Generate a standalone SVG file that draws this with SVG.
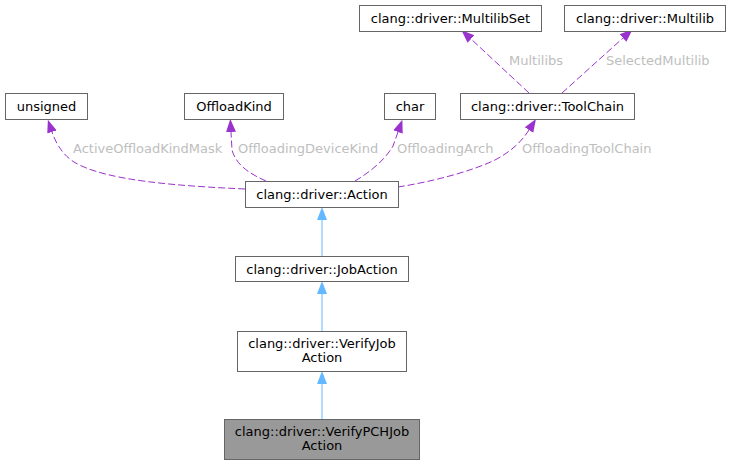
<svg xmlns="http://www.w3.org/2000/svg" width="730" height="465" viewBox="0 0 730 465">
<style>
.n rect{fill:#ffffff;stroke:#666666;stroke-width:1}
.n.hl rect{fill:#999999}
.n text{font-family:"DejaVu Sans",sans-serif;font-size:13px;fill:#000000;text-anchor:middle}
.e{fill:none;stroke:#9a32cd;stroke-width:1;stroke-dasharray:7,3}
.i{fill:none;stroke:#63b8ff;stroke-width:1}
.l{font-family:"DejaVu Sans",sans-serif;font-size:13px;fill:#bebebe}
</style>
<defs>
<marker id="ap" markerUnits="userSpaceOnUse" markerWidth="14" markerHeight="12" refX="0" refY="5" orient="auto" viewBox="0 0 14 10"><path d="M0,0 L13,5 L0,10 z" fill="#9a32cd"/></marker>
<marker id="ab" markerUnits="userSpaceOnUse" markerWidth="14" markerHeight="12" refX="0" refY="5" orient="auto" viewBox="0 0 14 10"><path d="M0,0 L13,5 L0,10 z" fill="#63b8ff"/></marker>
</defs>
<g id="connectors">
<path class="i" d="M322,256 L322,220" marker-end="url(#ab)"/>
<path class="i" d="M322,331 L322,294" marker-end="url(#ab)"/>
<path class="i" d="M322,419 L322,384" marker-end="url(#ab)"/>
<path class="e" d="M245,189 C180,186 105,181 74,162 C63,155 56,144 52,132" marker-end="url(#ap)"/>
<path class="e" d="M266,181 C250,174 236,165 232,150 L231,132" marker-end="url(#ap)"/>
<path class="e" d="M355,181 C370,172 385,160 393,146 L398,132" marker-end="url(#ap)"/>
<path class="e" d="M398,187 C430,182 470,172 495,160 C512,151 522,141 529,130" marker-end="url(#ap)"/>
<path class="e" d="M529,93 L471,39" marker-end="url(#ap)"/>
<path class="e" d="M562,93 L623,38" marker-end="url(#ap)"/>
<text class="l" x="73" y="153">ActiveOffloadKindMask</text>
<text class="l" x="238" y="153">OffloadingDeviceKind</text>
<text class="l" x="397" y="153">OffloadingArch</text>
<text class="l" x="522" y="153">OffloadingToolChain</text>
<text class="l" x="509" y="65">Multilibs</text>
<text class="l" x="606" y="65">SelectedMultilib</text>
</g>
<g id="node_unsigned" class="n"><rect x="5.5" y="93.5" width="82" height="26"/><text x="46.5" y="111">unsigned</text></g>
<g id="node_offloadkind" class="n"><rect x="184.5" y="93.5" width="99" height="26"/><text x="234" y="111">OffloadKind</text></g>
<g id="node_char" class="n"><rect x="384.5" y="93.5" width="51" height="26"/><text x="410" y="111">char</text></g>
<g id="node_toolchain" class="n"><rect x="460.5" y="93.5" width="174" height="26"/><text x="547.5" y="111">clang::driver::ToolChain</text></g>
<g id="node_multilibset" class="n"><rect x="359.5" y="5.5" width="182" height="26"/><text x="450.5" y="23">clang::driver::MultilibSet</text></g>
<g id="node_multilib" class="n"><rect x="564.5" y="5.5" width="161" height="26"/><text x="645" y="23">clang::driver::Multilib</text></g>
<g id="node_action" class="n"><rect x="245.5" y="181.5" width="153" height="26"/><text x="322" y="199">clang::driver::Action</text></g>
<g id="node_jobaction" class="n"><rect x="235.5" y="256.5" width="173" height="25"/><text x="322" y="273.5">clang::driver::JobAction</text></g>
<g id="node_verifyjobaction" class="n"><rect x="237.5" y="331.5" width="169" height="40"/><text x="322" y="348">clang::driver::VerifyJob</text><text x="322" y="362">Action</text></g>
<g id="node_verifypchjobaction" class="n hl"><rect x="224.5" y="419.5" width="195" height="40"/><text x="322" y="436">clang::driver::VerifyPCHJob</text><text x="322" y="450">Action</text></g>
</svg>
